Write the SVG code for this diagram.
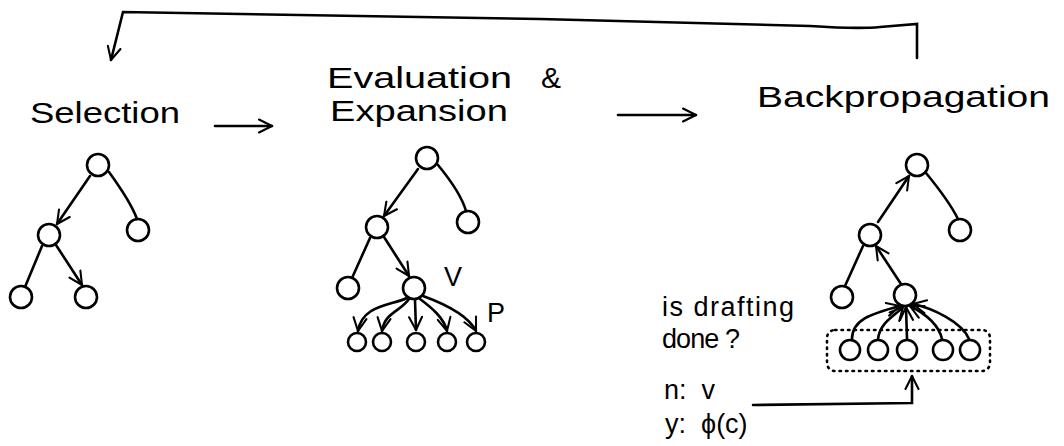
<svg xmlns="http://www.w3.org/2000/svg" width="1064" height="446" viewBox="0 0 1064 446">
<style>
.t{font-family:"Liberation Sans",Arial,sans-serif;fill:#000}
.h{font-size:30px}
.s{font-size:27px}
.n{fill:none;stroke:#000;stroke-width:2.6}
.e{fill:none;stroke:#000;stroke-width:2.6;stroke-linecap:round}
.a{marker-end:url(#ah)}
.box{fill:none;stroke:#000;stroke-width:2.6;stroke-dasharray:1.5 5;stroke-linecap:round}
</style>
<defs>
<marker id="ah" viewBox="0 0 12 12" refX="11" refY="6" markerWidth="6" markerHeight="6" orient="auto" markerUnits="strokeWidth">
<path d="M1,1 L11,6 L1,11" fill="none" stroke="#000" stroke-width="1.6" stroke-linecap="round"/>
</marker>
</defs>
<rect width="1064" height="446" fill="#fff"/>

<g id="labels">
<text class="t h" x="30" y="123" textLength="150" lengthAdjust="spacingAndGlyphs">Selection</text>
<text class="t h" x="327" y="88" textLength="185" lengthAdjust="spacingAndGlyphs">Evaluation</text>
<text class="t h" x="541" y="88">&amp;</text>
<text class="t h" x="330" y="121" textLength="178" lengthAdjust="spacingAndGlyphs">Expansion</text>
<text class="t h" x="757" y="107" textLength="293" lengthAdjust="spacingAndGlyphs">Backpropagation</text>
<text class="t s" x="444" y="286">V</text>
<text class="t s" x="487" y="322">P</text>
<text class="t s" x="662" y="316" textLength="132" lengthAdjust="spacing">is drafting</text>
<text class="t s" x="662" y="348" textLength="78" lengthAdjust="spacing">done ?</text>
<text class="t s" x="664" y="399" xml:space="preserve">n:  v</text>
<text class="t s" x="665" y="433" xml:space="preserve">y:  ϕ(c)</text>
</g>

<g id="connectors">
<path class="e a" d="M917,58 L917,24 L880,27 C860,29 840,28 810,26 L540,19 L123,12 L111,60"/>
<path class="e a" d="M215,126 L272,126"/>
<path class="e a" d="M618,115 L696,115"/>
<path class="e a" d="M753,405 L912,403 L912,376"/>
<!-- tree 1 -->
<path class="e a" d="M90,176 L57,224"/>
<path class="e" d="M109,172 C122,190 132,205 137,219"/>
<path class="e" d="M42,246 L25,287"/>
<path class="e a" d="M56,245 L82,285"/>
<!-- tree 2 -->
<path class="e a" d="M418,169 L384,216"/>
<path class="e" d="M438,165 C452,182 462,197 466,211"/>
<path class="e" d="M370,238 L352,278"/>
<path class="e a" d="M384,237 L409,276"/>
<path class="e a" d="M407,298 C390,306 362,305 358,331"/>
<path class="e a" d="M409,299 C400,312 385,312 382,331"/>
<path class="e a" d="M415,300 L416,330"/>
<path class="e a" d="M420,299 C432,308 444,318 447,331"/>
<path class="e a" d="M423,296 C445,304 468,315 476,331"/>
<!-- tree 3 -->
<path class="e a" d="M878,222 L909,176"/>
<path class="e" d="M926,173 C940,190 952,207 958,219"/>
<path class="e" d="M863,246 L845,286"/>
<path class="e a" d="M901,284 L876,246"/>
<path class="e a" d="M852,339 C852,320 870,314 900,306"/>
<path class="e a" d="M878,339 C880,322 895,316 903,307"/>
<path class="e a" d="M907,339 L906,307"/>
<path class="e a" d="M942,339 C938,322 922,312 910,306"/>
<path class="e a" d="M969,339 C962,322 932,308 913,304"/>
</g>

<g id="tree1">
<circle class="n" cx="98" cy="165" r="11"/>
<circle class="n" cx="49" cy="235" r="11"/>
<circle class="n" cx="138" cy="230" r="11"/>
<circle class="n" cx="21" cy="297" r="11"/>
<circle class="n" cx="86" cy="297" r="11"/>
</g>
<g id="tree2">
<circle class="n" cx="427" cy="158" r="11"/>
<circle class="n" cx="377" cy="227" r="11"/>
<circle class="n" cx="468" cy="222" r="11"/>
<circle class="n" cx="348" cy="288" r="11"/>
<circle class="n" cx="414" cy="288" r="11"/>
<circle class="n" cx="357" cy="342" r="9"/>
<circle class="n" cx="382" cy="342" r="9"/>
<circle class="n" cx="416" cy="342" r="9"/>
<circle class="n" cx="447" cy="342" r="9"/>
<circle class="n" cx="476" cy="342" r="9"/>
</g>
<g id="tree3">
<circle class="n" cx="917" cy="165" r="11"/>
<circle class="n" cx="870" cy="235" r="11"/>
<circle class="n" cx="960" cy="230" r="11"/>
<circle class="n" cx="842" cy="297" r="11"/>
<circle class="n" cx="905" cy="295" r="11"/>
<circle class="n" cx="850" cy="350" r="10"/>
<circle class="n" cx="878" cy="350" r="10"/>
<circle class="n" cx="907" cy="350" r="10"/>
<circle class="n" cx="943" cy="350" r="10"/>
<circle class="n" cx="970" cy="350" r="10"/>
<rect class="box" x="827" y="330" width="163" height="41" rx="8"/>
</g>
</svg>
